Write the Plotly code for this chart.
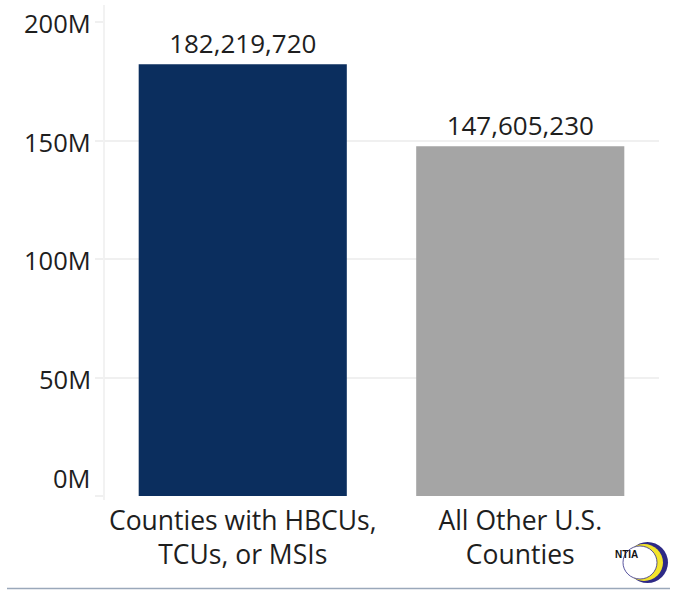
import plotly.graph_objects as go

categories = ["Counties with HBCUs,<br>TCUs, or MSIs", "All Other U.S.<br>Counties"]
values = [182219720, 147605230]
bar_colors = ["#0b2e5e", "#a5a5a5"]
tick_vals = [0, 50e6, 100e6, 150e6, 200e6]
tick_text = ["0M", "50M", "100M", "150M", "200M"]
labels = [f"{v:,}" for v in values]

W, H = 674, 590
L, R, T, B = 104, 15, 22, 94
PW, PH = W - L - R, H - T - B

def px(x):
    return (x - L) / PW

def py(y):
    return (H - B - y) / PH

FONT = "Open Sans"
TXT = "#1e1e1e"

fig = go.Figure(go.Bar(
    x=categories, y=values, marker=dict(color=bar_colors, line=dict(width=0)),
    text=labels, textposition="outside", cliponaxis=False,
    textfont=dict(family=FONT, size=26, color=TXT),
))

shapes = [
    dict(type="line", xref="paper", yref="paper", x0=0, x1=0, y0=py(500), y1=py(5),
         line=dict(color="#eeeeee", width=1.5), layer="below"),
    dict(type="line", xref="paper", yref="paper", x0=px(7), x1=px(670), y0=py(588.5), y1=py(588.5),
         line=dict(color="#9aa8ba", width=1.5)),
    dict(type="circle", xref="paper", yref="paper", x0=px(627), x1=px(668), y0=py(583), y1=py(542),
         fillcolor="#2e2a86", line=dict(width=0)),
    dict(type="circle", xref="paper", yref="paper", x0=px(625), x1=px(663), y0=py(581), y1=py(544),
         fillcolor="#f3e52c", line=dict(width=0)),
    dict(type="circle", xref="paper", yref="paper", x0=px(623), x1=px(657), y0=py(579), y1=py(546),
         fillcolor="#ffffff", line=dict(color="#2e2a86", width=0.8)),
]

annotations = [dict(text="<b>NTIA</b>", xref="paper", yref="paper", x=px(640), y=py(562),
                    showarrow=False, font=dict(family="Liberation Sans", size=10, color="#111111"))]
for v, t in zip(tick_vals, tick_text):
    annotations.append(dict(text=t, xref="paper", yref="y", x=0, y=v, xanchor="right",
                            yanchor="middle", xshift=-11, yshift=18 if v == 0 else -1,
                            showarrow=False, font=dict(family=FONT, size=25.5, color=TXT)))

fig.update_layout(
    width=W, height=H, margin=dict(l=L, r=R, t=T, b=B, autoexpand=False),
    paper_bgcolor="white", plot_bgcolor="white",
    bargap=0.25, showlegend=False,
    font=dict(family=FONT, size=24, color=TXT),
    shapes=shapes, annotations=annotations,
)
fig.update_xaxes(showgrid=False, showline=False, zeroline=False, ticks="", automargin=False,
                 ticklabelstandoff=6,
                 tickfont=dict(family=FONT, size=26.5, color=TXT))
fig.update_yaxes(range=[0, 200e6], tickvals=tick_vals, showticklabels=False, automargin=False,
                 showgrid=True, gridcolor="#f0f0f0", gridwidth=1.5, zeroline=False,
                 ticks="outside", ticklen=8, tickcolor="#f0f0f0", tickwidth=1.5, showline=False)

fig.write_html("out.html", config={"displayModeBar": False},
               post_script="document.body.style.margin='0';document.body.style.overflow='hidden';")
